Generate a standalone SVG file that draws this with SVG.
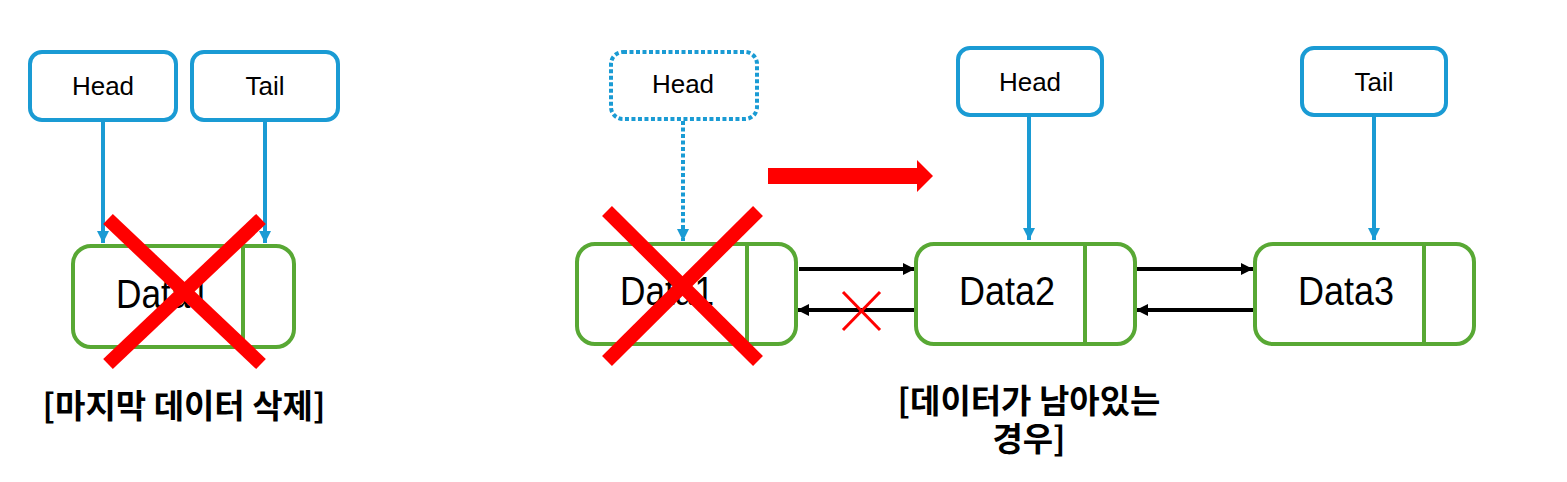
<svg xmlns="http://www.w3.org/2000/svg" width="1567" height="482" viewBox="0 0 1567 482">
<defs>
<style>
.ptr{fill:#fff;stroke:#1a9bd4;stroke-width:4}
.ptrd{fill:#fff;stroke:#1a9bd4;stroke-width:4;stroke-dasharray:4 2.5}
.node{fill:#fff;stroke:#58a834;stroke-width:4}
.div{stroke:#58a834;stroke-width:4}
.lbl{font-family:"Liberation Sans",Arial,sans-serif;font-size:26px;fill:#000;text-anchor:middle}
.dat{font-family:"Liberation Sans",Arial,sans-serif;font-size:40px;fill:#000;text-anchor:middle}
.kor{font-family:"Noto Sans CJK KR","Noto Sans",sans-serif;font-size:33px;font-weight:bold;fill:#000;text-anchor:middle}
.bl{stroke:#1a9bd4;stroke-width:4;fill:none}
.bk{stroke:#000;stroke-width:4;fill:none}
.rx{stroke:#ff0000;stroke-width:14;stroke-linecap:butt}
</style>
<marker id="ab" viewBox="0 0 10 10" refX="10" refY="5" markerWidth="12" markerHeight="14" markerUnits="userSpaceOnUse" orient="auto"><path d="M0,0L10,5L0,10Z" fill="#1a9bd4"/></marker>
<marker id="ak" viewBox="0 0 10 10" refX="10" refY="5" markerWidth="12" markerHeight="14" markerUnits="userSpaceOnUse" orient="auto"><path d="M0,0L10,5L0,10Z" fill="#000"/></marker>
</defs>
<rect width="1567" height="482" fill="#fff"/>

<g id="connectors">
<line class="bl" x1="103" y1="121" x2="103" y2="243" marker-end="url(#ab)"/>
<line class="bl" x1="265" y1="121" x2="265" y2="243" marker-end="url(#ab)"/>
<line class="bl" x1="683" y1="121" x2="683" y2="241" stroke-dasharray="4 2.5" marker-end="url(#ab)"/>
<line class="bl" x1="1029" y1="116" x2="1029" y2="240" marker-end="url(#ab)"/>
<line class="bl" x1="1374" y1="116" x2="1374" y2="240" marker-end="url(#ab)"/>
<line class="bk" x1="799" y1="269" x2="915" y2="269" marker-end="url(#ak)"/>
<line class="bk" x1="914" y1="310" x2="797" y2="310" marker-end="url(#ak)"/>
<line class="bk" x1="1137" y1="269" x2="1253" y2="269" marker-end="url(#ak)"/>
<line class="bk" x1="1253" y1="310" x2="1136" y2="310" marker-end="url(#ak)"/>
</g>

<g id="left-head"><rect class="ptr" x="30" y="52" width="146" height="68" rx="12"/><text class="lbl" x="103" y="95">Head</text></g>
<g id="left-tail"><rect class="ptr" x="192" y="52" width="146" height="68" rx="12"/><text class="lbl" x="265" y="95">Tail</text></g>
<g id="left-data1"><rect class="node" x="73" y="246" width="221" height="101" rx="18"/><line class="div" x1="243" y1="246" x2="243" y2="347"/><text class="dat" x="163" y="308" textLength="94" lengthAdjust="spacingAndGlyphs">Data1</text></g>
<g id="left-cross"><line class="rx" x1="108" y1="219" x2="261" y2="364"/><line class="rx" x1="261" y1="219" x2="108" y2="364"/></g>
<text class="kor" x="184" y="418">[마지막 데이터 삭제]</text>

<g id="mid-head"><rect class="ptrd" x="611" y="52" width="146" height="67" rx="12"/><text class="lbl" x="683" y="93">Head</text></g>
<g id="mid-data1"><rect class="node" x="577" y="244" width="219" height="100" rx="18"/><line class="div" x1="747" y1="244" x2="747" y2="344"/><text class="dat" x="667" y="305" textLength="94" lengthAdjust="spacingAndGlyphs">Data1</text></g>
<g id="mid-cross"><line class="rx" x1="607" y1="211" x2="758" y2="361"/><line class="rx" x1="758" y1="211" x2="607" y2="361"/></g>
<g id="small-cross"><line x1="843" y1="292" x2="880" y2="330" stroke="#ff0000" stroke-width="3"/><line x1="880" y1="292" x2="843" y2="330" stroke="#ff0000" stroke-width="3"/></g>
<g id="big-arrow"><path d="M768,168H917V160L933,176L917,192V184H768Z" fill="#ff0000"/></g>

<g id="r-head"><rect class="ptr" x="958" y="48" width="144" height="67" rx="12"/><text class="lbl" x="1030" y="91">Head</text></g>
<g id="r-tail"><rect class="ptr" x="1302" y="48" width="144" height="67" rx="12"/><text class="lbl" x="1374" y="91">Tail</text></g>
<g id="data2"><rect class="node" x="916" y="244" width="219" height="100" rx="18"/><line class="div" x1="1085" y1="244" x2="1085" y2="344"/><text class="dat" x="1007" y="305" textLength="96" lengthAdjust="spacingAndGlyphs">Data2</text></g>
<g id="data3"><rect class="node" x="1255" y="244" width="219" height="100" rx="18"/><line class="div" x1="1424" y1="244" x2="1424" y2="344"/><text class="dat" x="1346" y="305" textLength="96" lengthAdjust="spacingAndGlyphs">Data3</text></g>
<text class="kor" x="1029" y="413">[데이터가 남아있는<tspan x="1029" dy="38">경우]</tspan></text>
</svg>
